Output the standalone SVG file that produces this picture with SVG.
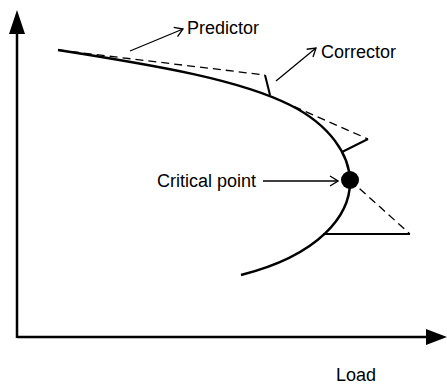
<svg xmlns="http://www.w3.org/2000/svg" width="447" height="385" viewBox="0 0 447 385">
<style>
.lbl{font-family:"Liberation Sans",Arial,sans-serif;font-size:18px;fill:#000}
.axis{stroke:#000;stroke-width:2.5;fill:none}
.curve{stroke:#000;stroke-width:2.5;fill:none}
.pred{stroke:#000;stroke-width:1.3;fill:none;stroke-dasharray:8 5}
.corr{stroke:#000;stroke-width:2;fill:none}
.ptr{stroke:#000;stroke-width:1.3;fill:none}
</style>
<defs>
<marker id="open" viewBox="0 0 10 12" refX="9" refY="6" markerWidth="10" markerHeight="12" markerUnits="userSpaceOnUse" orient="auto">
<path d="M1,1 L9,6 L1,11" fill="none" stroke="#000" stroke-width="1.3"/>
</marker>
</defs>
<g id="axes">
<path class="axis" d="M17,338 V30 M17,337 H428"/>
<polygon points="17,10 9,34 25,34" fill="#000"/>
<polygon points="447,337 426,329 426,345" fill="#000"/>
<text class="lbl" x="336" y="381">Load</text>
</g>
<g id="curve">
<path class="curve" d="M58,50 C160,66 240,80 290,105 C330,125 350,155 350,182 C350,215 320,255 241,275"/>
</g>
<g id="connectors">
<path class="pred" d="M58,50 L265,75"/>
<path class="corr" d="M265,75 L270,95"/>
<path class="pred" d="M270,96 L368,139"/>
<path class="corr" d="M368,139 L342,152"/>
<path class="pred" d="M350,180 L410,234"/>
<path class="corr" d="M410,234 H323"/>
<path class="ptr" d="M130,51 L183,29" marker-end="url(#open)"/>
<path class="ptr" d="M276,81 L316,48" marker-end="url(#open)"/>
<path class="ptr" d="M263,181 L338,181" marker-end="url(#open)"/>
</g>
<g id="critical">
<circle cx="350" cy="180" r="9" fill="#000"/>
<text class="lbl" x="157" y="187">Critical point</text>
</g>
<g id="predictor">
<text class="lbl" x="187" y="34">Predictor</text>
</g>
<g id="corrector">
<text class="lbl" x="321" y="58">Corrector</text>
</g>
</svg>
